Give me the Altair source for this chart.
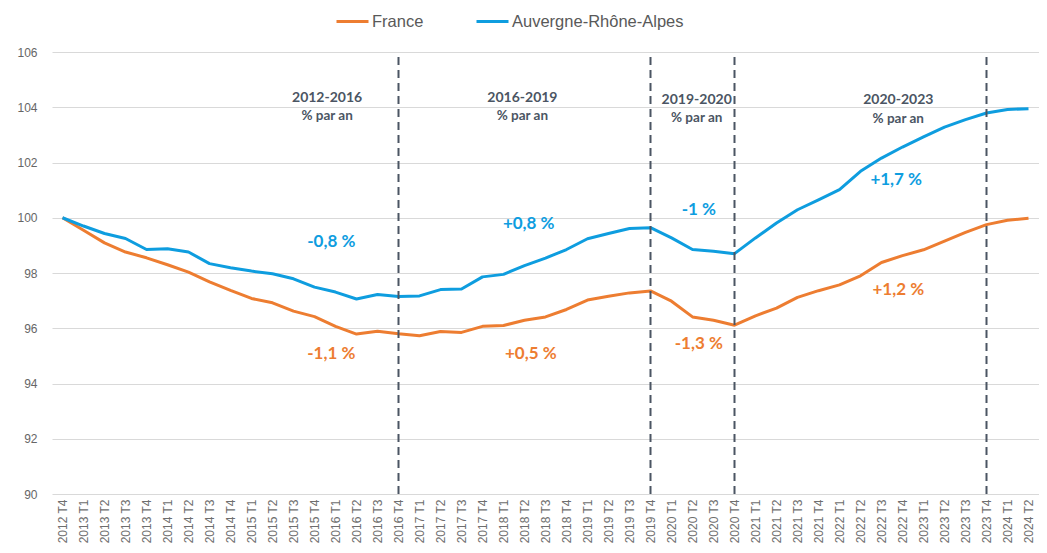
import json
import altair as alt
import pandas as pd

quarters = [
    "2012 T4",
    "2013 T1", "2013 T2", "2013 T3", "2013 T4",
    "2014 T1", "2014 T2", "2014 T3", "2014 T4",
    "2015 T1", "2015 T2", "2015 T3", "2015 T4",
    "2016 T1", "2016 T2", "2016 T3", "2016 T4",
    "2017 T1", "2017 T2", "2017 T3", "2017 T4",
    "2018 T1", "2018 T2", "2018 T3", "2018 T4",
    "2019 T1", "2019 T2", "2019 T3", "2019 T4",
    "2020 T1", "2020 T2", "2020 T3", "2020 T4",
    "2021 T1", "2021 T2", "2021 T3", "2021 T4",
    "2022 T1", "2022 T2", "2022 T3", "2022 T4",
    "2023 T1", "2023 T2", "2023 T3", "2023 T4",
    "2024 T1", "2024 T2",
]

france = [
    100.00, 99.55, 99.09, 98.76, 98.55, 98.30, 98.03, 97.68, 97.37, 97.08,
    96.92, 96.62, 96.42, 96.07, 95.79, 95.89, 95.80, 95.73, 95.88, 95.85,
    96.07, 96.10, 96.29, 96.41, 96.68, 97.02, 97.16, 97.28, 97.35, 96.98,
    96.41, 96.29, 96.11, 96.45, 96.73, 97.12, 97.36, 97.57, 97.90, 98.38,
    98.63, 98.84, 99.15, 99.47, 99.75, 99.91, 99.98,
]

ara = [
    100.00, 99.70, 99.43, 99.25, 98.85, 98.88, 98.76, 98.34, 98.19, 98.07,
    97.97, 97.79, 97.49, 97.31, 97.06, 97.22, 97.15, 97.17, 97.40, 97.42,
    97.86, 97.95, 98.27, 98.54, 98.85, 99.24, 99.43, 99.61, 99.64, 99.27,
    98.85, 98.79, 98.70, 99.27, 99.81, 100.29, 100.65, 101.02, 101.68, 102.16,
    102.56, 102.93, 103.28, 103.55, 103.79, 103.92, 103.95,
]

series_names = ["France", "Auvergne-Rhône-Alpes"]
series_colors = ["#ED7D31", "#0E9DDF"]

period_breaks = ["2016 T4", "2019 T4", "2020 T4", "2023 T4"]

period_titles = ["2012-2016", "2016-2019", "2019-2020", "2020-2023"]
period_title_x = [12.6, 21.9, 30.2, 39.8]
period_title_y = [104.35, 104.35, 104.28, 104.28]
period_sub_y = [103.70, 103.70, 103.62, 103.59]

rate_labels_ara = ["-0,8 %", "+0,8 %", "-1 %", "+1,7 %"]
rate_x_ara = [12.8, 22.2, 30.3, 39.7]
rate_y_ara = [99.13, 99.78, 100.29, 101.38]

rate_labels_fr = ["-1,1 %", "+0,5 %", "-1,3 %", "+1,2 %"]
rate_x_fr = [12.8, 22.3, 30.3, 39.8]
rate_y_fr = [95.07, 95.07, 95.43, 97.39]

y_ticks = [90, 92, 94, 96, 98, 100, 102, 104, 106]

# ---- tables ----
rows = []
for i, q in enumerate(quarters):
    rows.append({"i": i, "q": q, "serie": series_names[0], "v": france[i]})
for i, q in enumerate(quarters):
    rows.append({"i": i, "q": q, "serie": series_names[1], "v": ara[i]})
df = pd.DataFrame(rows)

breaks_df = pd.DataFrame({"i": [quarters.index(b) for b in period_breaks],
                          "lo": [90] * len(period_breaks), "hi": [106] * len(period_breaks)})
titles_df = pd.DataFrame({"t": period_titles, "x": period_title_x, "y": period_title_y})
subs_df = pd.DataFrame({"t": ["% par an"] * len(period_titles), "x": period_title_x, "y": period_sub_y})
ara_df = pd.DataFrame({"t": rate_labels_ara, "x": rate_x_ara, "y": rate_y_ara})
fr_df = pd.DataFrame({"t": rate_labels_fr, "x": rate_x_fr, "y": rate_y_fr})

label_expr = json.dumps(quarters) + "[datum.value]"

x_scale = alt.Scale(domain=[-0.5, len(quarters) - 0.5], nice=False, zero=False)
y_scale = alt.Scale(domain=[90, 106], nice=False, zero=False)

x_axis = alt.Axis(
    values=list(range(len(quarters))), labelExpr=label_expr, labelAngle=-90,
    labelAlign="right", labelBaseline="middle", labelPadding=5, labelFontSize=12,
    labelColor="#6E6E6E", labelFont="Liberation Sans", grid=False, ticks=False,
    domain=False, title=None, labelOverlap=False, labelBound=False, labelFlush=False,
)
y_axis = alt.Axis(
    values=y_ticks, labelFontSize=12, labelColor="#666666", labelFont="Liberation Sans",
    labelPadding=15, grid=True, gridColor="#D9D9D9", gridWidth=1, ticks=False,
    domain=False, title=None,
)

lines = alt.Chart(df).mark_line(strokeWidth=3, strokeJoin="round").encode(
    x=alt.X("i:Q", scale=x_scale, axis=x_axis),
    y=alt.Y("v:Q", scale=y_scale, axis=y_axis),
    color=alt.Color(
        "serie:N",
        scale=alt.Scale(domain=series_names, range=series_colors),
        sort=series_names,
        legend=alt.Legend(
            orient="none", legendX=283, legendY=-48, direction="horizontal",
            title=None, symbolType="stroke", symbolStrokeWidth=3, symbolSize=1024,
            labelFontSize=16.5, labelLimit=0,
            labelFont="Liberation Sans Narrow, Liberation Sans, sans-serif",
            labelColor="#595959", columnPadding=46, labelOffset=2,
        ),
    ),
)

rules = alt.Chart(breaks_df).mark_rule(
    color="#4B5563", strokeWidth=2, strokeDash=[8, 5]
).encode(
    x=alt.X("i:Q", scale=x_scale, axis=x_axis),
    y=alt.Y("lo:Q", scale=y_scale, axis=y_axis),
    y2="hi:Q",
)

def text_layer(data, size, color):
    return alt.Chart(data).mark_text(
        fontSize=size, fontWeight="bold", color=color, font="Lato"
    ).encode(
        x=alt.X("x:Q", scale=x_scale, axis=x_axis),
        y=alt.Y("y:Q", scale=y_scale, axis=y_axis),
        text="t:N",
    )

titles = text_layer(titles_df, 14, "#4B5563")
subs = text_layer(subs_df, 13.5, "#4B5563")
ara_txt = text_layer(ara_df, 17, series_colors[1])
fr_txt = text_layer(fr_df, 17, series_colors[0])

chart = alt.layer(lines, rules, titles, subs, ara_txt, fr_txt).properties(
    width=987, height=442,
    padding={"left": 44, "top": 44, "right": 0, "bottom": 51},
    autosize=alt.AutoSizeParams(type="none"),
    background="white",
).configure_view(stroke=None)

chart.save("out.html", embed_options={"renderer": "svg", "actions": False})
